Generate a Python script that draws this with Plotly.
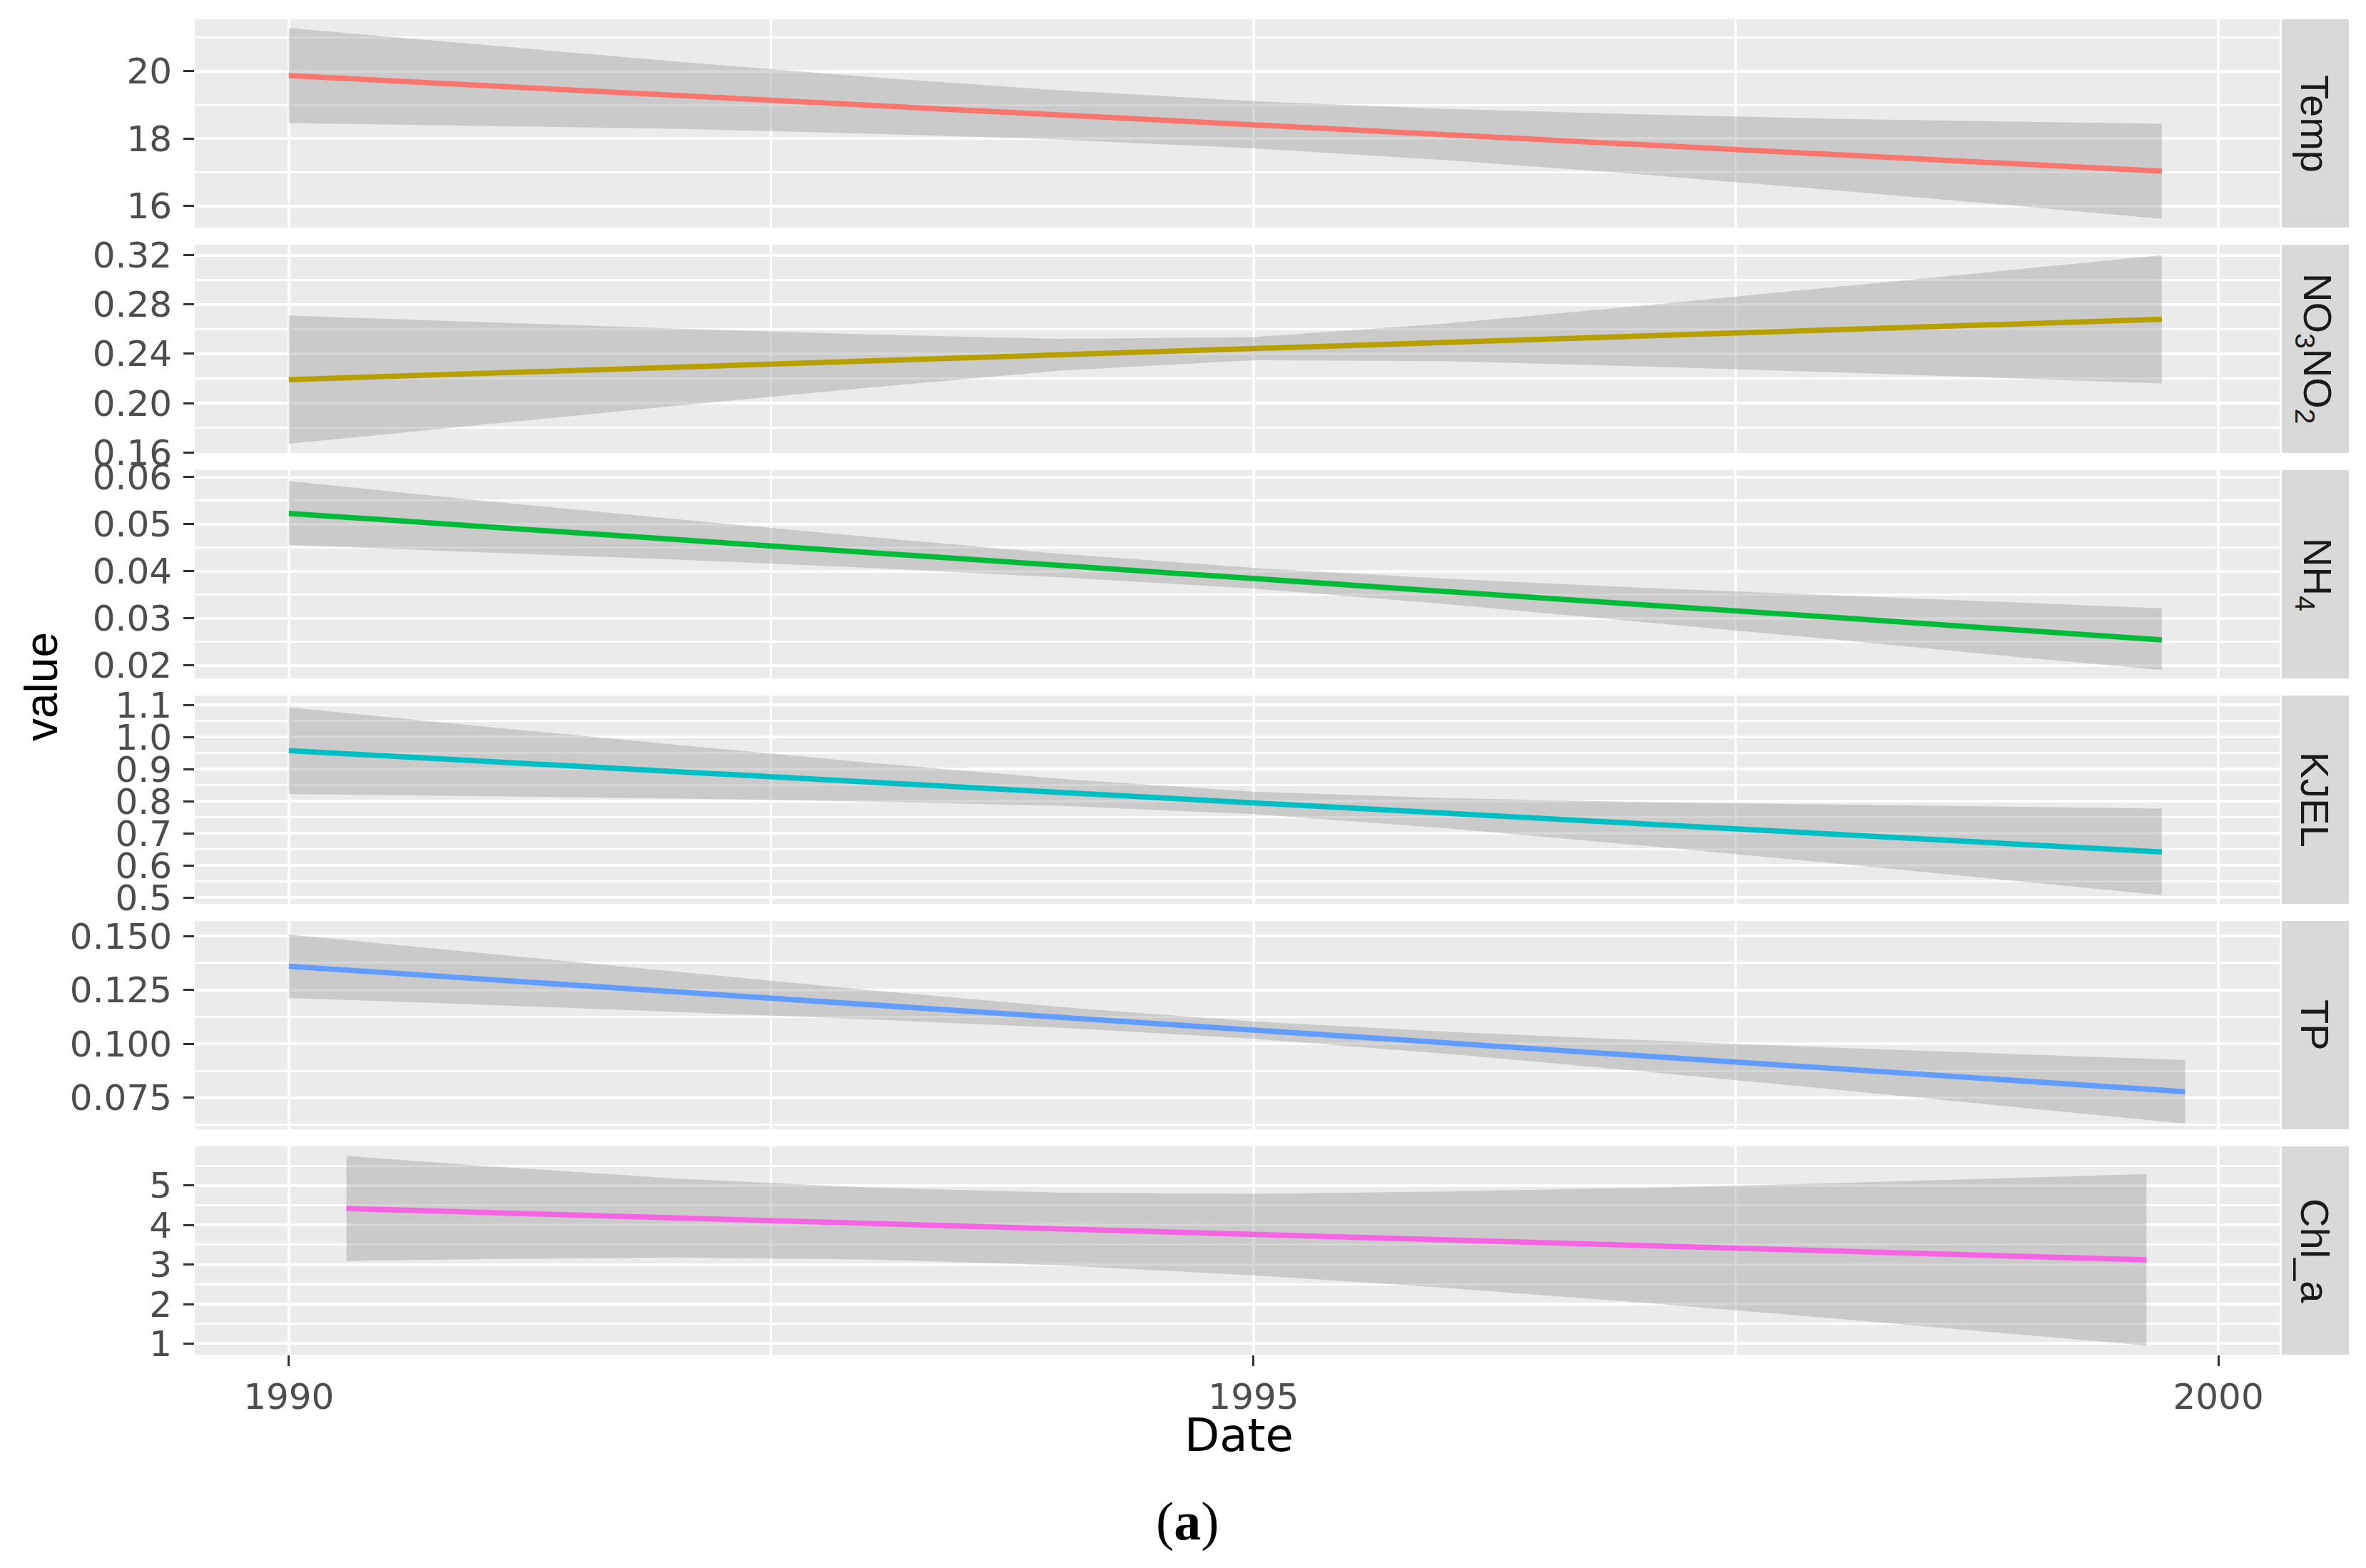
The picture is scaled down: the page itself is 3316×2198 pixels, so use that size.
import plotly.graph_objects as go

W, H = 3316, 2198

# ---------------- data ----------------
panel_names = ["Temp", "NO3NO2", "NH4", "KJEL", "TP", "Chl_a"]
strip_labels = ["Temp", "NO<sub>3</sub>NO<sub>2</sub>", "NH<sub>4</sub>", "KJEL", "TP", "Chl_a"]
line_colors = ["#F8766D", "#B79F00", "#00BA38", "#00BFC4", "#619CFF", "#F564E3"]

dates_main = ["1990-01-01", "1991-01-01", "1992-01-01", "1993-01-01", "1994-01-01", "1995-01-01",
              "1996-01-01", "1997-01-01", "1998-01-01", "1999-01-01", "1999-09-16"]
dates_tp = ["1990-01-01", "1991-01-01", "1992-01-01", "1993-01-01", "1994-01-01", "1995-01-01",
            "1996-01-01", "1997-01-01", "1998-01-01", "1999-01-01", "1999-10-30"]
dates_chl = ["1990-04-20", "1991-01-01", "1992-01-01", "1993-01-01", "1994-01-01", "1995-01-01",
             "1996-01-01", "1997-01-01", "1998-01-01", "1999-01-01", "1999-08-18"]

temp_fit = [19.87, 19.58, 19.29, 18.99, 18.70, 18.41, 18.12, 17.83, 17.53, 17.24, 17.03]
temp_upper = [21.28, 20.78, 20.29, 19.83, 19.43, 19.11, 18.88, 18.72, 18.59, 18.50, 18.44]
temp_lower = [18.46, 18.38, 18.29, 18.15, 17.97, 17.71, 17.36, 16.94, 16.47, 15.98, 15.62]

no3_fit = [0.2190, 0.2240, 0.2291, 0.2341, 0.2392, 0.2442, 0.2493, 0.2543, 0.2594, 0.2644, 0.2680]
no3_upper = [0.2710, 0.2656, 0.2605, 0.2557, 0.2521, 0.2536, 0.2646, 0.2788, 0.2938, 0.3091, 0.3200]
no3_lower = [0.1670, 0.1824, 0.1977, 0.2125, 0.2263, 0.2348, 0.2340, 0.2298, 0.2250, 0.2197, 0.2160]

nh4_fit = [0.0523, 0.0495, 0.0468, 0.0440, 0.0412, 0.0385, 0.0357, 0.0329, 0.0302, 0.0274, 0.0254]
nh4_upper = [0.0592, 0.0550, 0.0511, 0.0473, 0.0437, 0.0407, 0.0384, 0.0365, 0.0349, 0.0332, 0.0321]
nh4_lower = [0.0456, 0.0440, 0.0425, 0.0407, 0.0387, 0.0363, 0.0330, 0.0293, 0.0255, 0.0216, 0.0190]

kjel_fit = [0.958, 0.925, 0.893, 0.860, 0.828, 0.795, 0.763, 0.730, 0.698, 0.665, 0.642]
kjel_upper = [1.093, 1.034, 0.977, 0.921, 0.870, 0.830, 0.810, 0.798, 0.790, 0.782, 0.777]
kjel_lower = [0.823, 0.816, 0.809, 0.799, 0.786, 0.760, 0.716, 0.663, 0.607, 0.548, 0.507]

tp_fit = [0.1360, 0.1301, 0.1242, 0.1182, 0.1123, 0.1064, 0.1005, 0.0946, 0.0886, 0.0827, 0.0778]
tp_upper = [0.1507, 0.1421, 0.1335, 0.1250, 0.1171, 0.1104, 0.1056, 0.1018, 0.0983, 0.0951, 0.0925]
tp_lower = [0.1213, 0.1182, 0.1149, 0.1114, 0.1075, 0.1024, 0.0954, 0.0874, 0.0789, 0.0703, 0.0631]

chl_fit = [4.42, 4.32, 4.18, 4.04, 3.90, 3.76, 3.63, 3.49, 3.35, 3.21, 3.12]
chl_upper = [5.75, 5.50, 5.18, 4.95, 4.82, 4.79, 4.85, 4.94, 5.06, 5.20, 5.29]
chl_lower = [3.09, 3.14, 3.18, 3.13, 2.98, 2.73, 2.41, 2.04, 1.64, 1.22, 0.95]

panel_dates = [dates_main, dates_main, dates_main, dates_main, dates_tp, dates_chl]
panel_fit = [temp_fit, no3_fit, nh4_fit, kjel_fit, tp_fit, chl_fit]
panel_upper = [temp_upper, no3_upper, nh4_upper, kjel_upper, tp_upper, chl_upper]
panel_lower = [temp_lower, no3_lower, nh4_lower, kjel_lower, tp_lower, chl_lower]

y_ranges = [[15.36, 21.54], [0.1595, 0.3285], [0.0172, 0.0615], [0.48, 1.13], [0.0604, 0.157], [0.72, 5.99]]
y_dtick = [2, 0.04, 0.01, 0.1, 0.025, 1]
y_format = ["d", ".2f", ".2f", ".1f", ".3f", "d"]
x_range = ["1989-07-07", "2000-04-26"]

# ---------------- layout geometry (pixels) ----------------
px_left, px_right = 265, 3187
strip_x0, strip_x1 = 3190, 3284
panel_tops = [19, 335, 651, 967, 1283, 1599]
panel_h = 292

fig = go.Figure()

tick_font = dict(family="DejaVu Sans", size=50, color="#4D4D4D")

layout = dict(
    width=W, height=H,
    margin=dict(l=0, r=0, t=0, b=0),
    template="none",
    paper_bgcolor="white",
    plot_bgcolor="#EBEBEB",
    showlegend=False,
    shapes=[], annotations=[],
)

for i in range(6):
    n = i + 1
    xa = "x" if n == 1 else f"x{n}"
    ya = "y" if n == 1 else f"y{n}"
    d = panel_dates[i]
    fig.add_trace(go.Scatter(
        x=d + d[::-1], y=panel_upper[i] + panel_lower[i][::-1],
        fill="toself", fillcolor="rgba(153,153,153,0.4)",
        line=dict(width=0), mode="lines", hoverinfo="skip",
        xaxis=xa, yaxis=ya))
    fig.add_trace(go.Scatter(
        x=d, y=panel_fit[i], mode="lines",
        line=dict(color=line_colors[i], width=7.5),
        xaxis=xa, yaxis=ya, name=panel_names[i]))

    top = panel_tops[i]
    bot = top + panel_h
    ydom = [1 - bot / H, 1 - top / H]
    xkey = "xaxis" if n == 1 else f"xaxis{n}"
    ykey = "yaxis" if n == 1 else f"yaxis{n}"
    is_bottom = (n == 6)
    layout[xkey] = dict(
        domain=[px_left / W, px_right / W],
        anchor=ya, type="date", range=x_range,
        tick0="1990-01-01", dtick="M60", tickformat="%Y",
        showgrid=True, gridcolor="white", gridwidth=4,
        minor=dict(dtick="M30", showgrid=True, gridcolor="white", gridwidth=2.5, ticks=""),
        zeroline=False, showline=False,
        showticklabels=is_bottom,
        ticks="outside" if is_bottom else "", ticklen=15, tickwidth=3, tickcolor="#333333",
        tickfont=tick_font, automargin=False,
        matches=None if n == 1 else "x",
    )
    layout[ykey] = dict(
        domain=ydom, anchor=xa, range=y_ranges[i],
        tick0=0, dtick=y_dtick[i], tickformat=y_format[i],
        showgrid=True, gridcolor="white", gridwidth=4,
        minor=dict(dtick=y_dtick[i] / 2, showgrid=True, gridcolor="white", gridwidth=2.5, ticks=""),
        zeroline=False, showline=False,
        ticks="outside", ticklen=15, tickwidth=3, tickcolor="#333333",
        tickfont=tick_font, automargin=False, ticklabelstandoff=6,
    )
    # strip
    layout["shapes"].append(dict(
        type="rect", xref="paper", yref="paper",
        x0=strip_x0 / W, x1=strip_x1 / W, y0=ydom[0], y1=ydom[1],
        fillcolor="#D9D9D9", line=dict(width=0), layer="below"))
    layout["annotations"].append(dict(
        x=(strip_x0 + strip_x1) / 2 / W, y=(ydom[0] + ydom[1]) / 2,
        xref="paper", yref="paper", text=strip_labels[i], showarrow=False,
        textangle=90, xanchor="center", yanchor="middle",
        font=dict(family="Liberation Sans", size=56, color="#1A1A1A")))

layout["annotations"].append(dict(
    x=50 / W, y=1 - 955 / H, xref="paper", yref="paper", text="value",
    showarrow=False, textangle=-90, xanchor="center", yanchor="middle",
    font=dict(family="Liberation Sans", size=64, color="black")))
layout["annotations"].append(dict(
    x=1728 / W, y=1 - 2004 / H, xref="paper", yref="paper", text="Date",
    showarrow=False, xanchor="center", yanchor="middle",
    font=dict(family="DejaVu Sans", size=64, color="black")))
layout["annotations"].append(dict(
    x=1656 / W, y=1 - 2124 / H, xref="paper", yref="paper", text="(<b>a</b>)",
    showarrow=False, xanchor="center", yanchor="middle",
    font=dict(family="Liberation Serif", size=76, color="black")))

fig.update_layout(**layout)
fig.write_html("out.html")
